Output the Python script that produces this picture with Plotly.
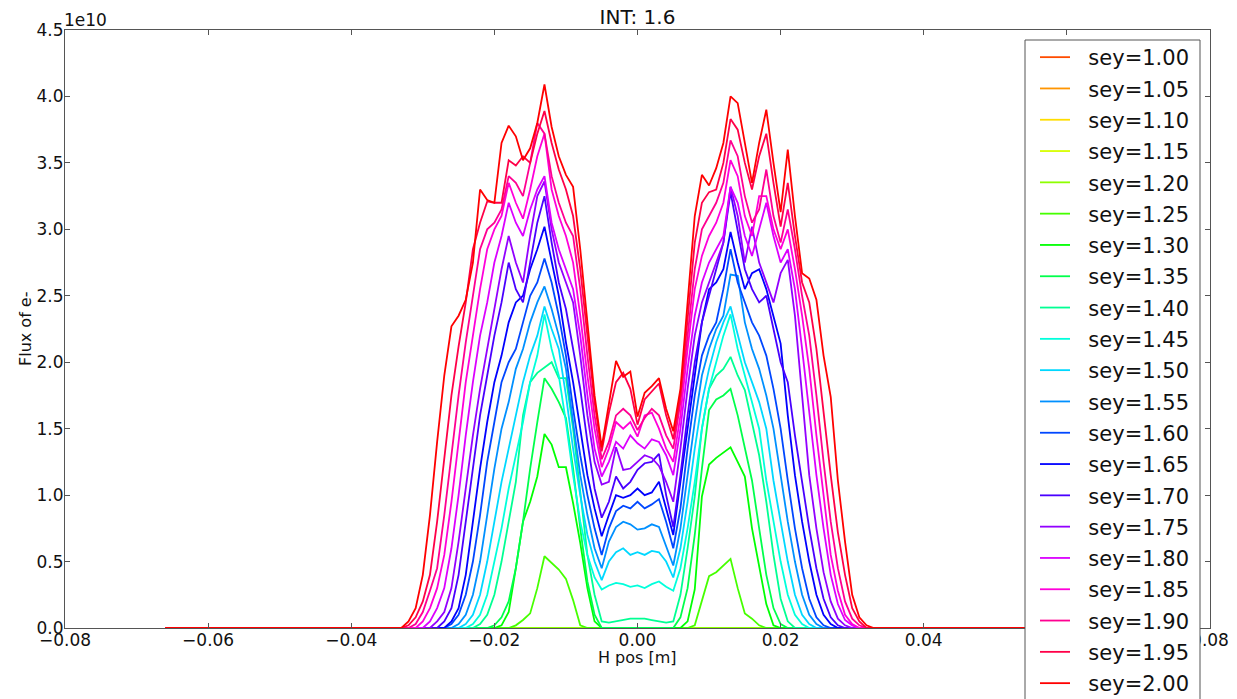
import colorsys

import numpy as np
import plotly.graph_objects as go

# Horizontal positions of the flux bins [m]; 1 mm bins across the chamber.
x_full = np.round(np.linspace(-0.066, 0.066, 133), 3)
# Bins -0.034 .. +0.034 m carry all the non-zero flux; outside it is zero.
CORE_START, CORE_LEN = 32, 69

sey_labels = ["1.00", "1.05", "1.10", "1.15", "1.20", "1.25", "1.30", "1.35", "1.40",
              "1.45", "1.50", "1.55", "1.60", "1.65", "1.70", "1.75", "1.80", "1.85",
              "1.90", "1.95", "2.00"]

# Electron flux per bin over x = -0.034 .. 0.034 m, in units of 1e10.
flux_sey_100 = [0.0] * CORE_LEN
flux_sey_105 = [0.0] * CORE_LEN
flux_sey_110 = [0.0] * CORE_LEN
flux_sey_115 = [0.0] * CORE_LEN
flux_sey_120 = [0.0] * CORE_LEN
flux_sey_125 = [
    0, 0, 0, 0, 0, 0, 0, 0, 0, 0,
    0, 0, 0, 0, 0, 0, 0, 0.02, 0.06, 0.11,
    0.30, 0.54, 0.49, 0.44, 0.37, 0.21, 0.02, 0, 0, 0,
    0, 0, 0, 0, 0, 0, 0, 0, 0, 0,
    0, 0, 0.02, 0.20, 0.39, 0.42, 0.47, 0.52, 0.30, 0.11,
    0.07, 0.02, 0, 0, 0, 0, 0, 0, 0, 0,
    0, 0, 0, 0, 0, 0, 0, 0, 0]
flux_sey_130 = [
    0, 0, 0, 0, 0, 0, 0, 0, 0, 0,
    0, 0, 0, 0, 0, 0.02, 0.12, 0.45, 0.80, 0.95,
    1.14, 1.46, 1.38, 1.21, 1.21, 0.94, 0.64, 0.30, 0.05, 0,
    0, 0, 0, 0, 0, 0, 0, 0, 0, 0,
    0, 0.05, 0.29, 0.99, 1.23, 1.28, 1.32, 1.36, 1.25, 1.14,
    0.75, 0.45, 0.18, 0.02, 0, 0, 0, 0, 0, 0,
    0, 0, 0, 0, 0, 0, 0, 0, 0]
flux_sey_135 = [
    0, 0, 0, 0, 0, 0, 0, 0, 0, 0,
    0, 0, 0, 0, 0.02, 0.08, 0.20, 0.45, 0.80, 1.20,
    1.55, 1.88, 1.80, 1.70, 1.58, 1.20, 0.75, 0.35, 0.10, 0,
    0, 0, 0, 0, 0, 0, 0, 0, 0, 0,
    0.08, 0.30, 0.70, 1.20, 1.64, 1.72, 1.75, 1.80, 1.60, 1.35,
    1.11, 0.75, 0.40, 0.15, 0.03, 0, 0, 0, 0, 0,
    0, 0, 0, 0, 0, 0, 0, 0, 0]
flux_sey_140 = [
    0, 0, 0, 0, 0, 0, 0, 0, 0, 0,
    0, 0, 0.03, 0.10, 0.25, 0.50, 0.80, 1.10, 1.60, 1.85,
    1.92, 1.96, 2.00, 1.88, 1.88, 1.50, 1.00, 0.55, 0.25, 0.05,
    0.04, 0.05, 0.06, 0.07, 0.07, 0.07, 0.06, 0.05, 0.04, 0.05,
    0.25, 0.60, 0.99, 1.50, 1.80, 1.90, 1.95, 2.04, 1.90, 1.79,
    1.55, 1.30, 0.95, 0.55, 0.22, 0.05, 0, 0, 0, 0,
    0, 0, 0, 0, 0, 0, 0, 0, 0]
flux_sey_145 = [
    0, 0, 0, 0, 0, 0, 0, 0, 0, 0,
    0, 0.03, 0.10, 0.25, 0.50, 0.75, 1.05, 1.30, 1.55, 1.85,
    2.05, 2.36, 2.10, 1.90, 1.55, 1.15, 0.80, 0.55, 0.38, 0.29,
    0.32, 0.34, 0.33, 0.31, 0.32, 0.30, 0.33, 0.35, 0.31, 0.28,
    0.45, 0.75, 1.10, 1.50, 1.80, 2.00, 2.20, 2.36, 2.10, 1.90,
    1.70, 1.50, 1.11, 0.80, 0.50, 0.25, 0.10, 0.03, 0, 0,
    0, 0, 0, 0, 0, 0, 0, 0, 0]
flux_sey_150 = [
    0, 0, 0, 0, 0, 0, 0, 0, 0, 0,
    0.03, 0.10, 0.25, 0.50, 0.80, 1.10, 1.35, 1.60, 1.85, 2.05,
    2.20, 2.42, 2.25, 2.10, 1.75, 1.35, 1.00, 0.70, 0.50, 0.36,
    0.50, 0.57, 0.60, 0.55, 0.57, 0.55, 0.58, 0.57, 0.50, 0.38,
    0.60, 0.95, 1.35, 1.70, 1.95, 2.15, 2.30, 2.42, 2.20, 2.00,
    1.85, 1.70, 1.50, 1.11, 0.80, 0.50, 0.25, 0.10, 0.03, 0,
    0, 0, 0, 0, 0, 0, 0, 0, 0]
flux_sey_155 = [
    0, 0, 0, 0, 0, 0, 0, 0, 0, 0.03,
    0.10, 0.25, 0.50, 0.85, 1.20, 1.50, 1.70, 1.95, 2.10, 2.30,
    2.45, 2.57, 2.40, 2.20, 1.95, 1.55, 1.15, 0.85, 0.60, 0.45,
    0.65, 0.76, 0.80, 0.78, 0.74, 0.75, 0.78, 0.76, 0.62, 0.47,
    0.75, 1.15, 1.55, 1.90, 2.10, 2.25, 2.35, 2.66, 2.65, 2.30,
    2.10, 1.95, 1.75, 1.50, 1.15, 0.80, 0.50, 0.25, 0.10, 0.03,
    0, 0, 0, 0, 0, 0, 0, 0, 0]
flux_sey_160 = [
    0, 0, 0, 0, 0, 0, 0, 0, 0.03, 0.10,
    0.25, 0.50, 0.85, 1.25, 1.55, 1.85, 2.00, 2.10, 2.30, 2.50,
    2.60, 2.78, 2.60, 2.35, 2.05, 1.65, 1.30, 1.00, 0.75, 0.55,
    0.75, 0.88, 0.92, 0.90, 0.95, 0.90, 0.93, 0.97, 0.80, 0.60,
    0.90, 1.35, 1.75, 2.05, 2.20, 2.30, 2.55, 2.85, 2.60, 2.45,
    2.30, 2.20, 2.05, 1.80, 1.50, 1.11, 0.75, 0.45, 0.22, 0.08,
    0.02, 0, 0, 0, 0, 0, 0, 0, 0]
flux_sey_165 = [
    0, 0, 0, 0, 0, 0, 0, 0, 0.05, 0.15,
    0.40, 0.80, 1.20, 1.55, 1.85, 2.05, 2.30, 2.45, 2.50, 2.70,
    2.85, 3.02, 2.75, 2.50, 2.15, 1.85, 1.50, 1.15, 0.90, 0.69,
    0.85, 1.00, 0.98, 1.00, 1.05, 1.00, 1.02, 1.10, 0.90, 0.70,
    1.10, 1.50, 1.90, 2.30, 2.55, 2.60, 2.70, 2.98, 2.75, 2.55,
    2.67, 2.70, 2.55, 2.35, 2.14, 1.60, 1.15, 0.80, 0.50, 0.25,
    0.10, 0.03, 0, 0, 0, 0, 0, 0, 0]
flux_sey_170 = [
    0, 0, 0, 0, 0, 0, 0, 0.05, 0.15, 0.40,
    0.80, 1.20, 1.60, 1.90, 2.20, 2.45, 2.75, 2.55, 2.45, 2.75,
    3.05, 3.25, 2.90, 2.60, 2.40, 2.10, 1.80, 1.40, 1.05, 0.83,
    0.95, 1.14, 1.05, 1.10, 1.19, 1.24, 1.25, 1.31, 1.00, 0.76,
    1.15, 1.60, 2.00, 2.30, 2.50, 2.70, 2.90, 3.28, 3.00, 2.70,
    2.55, 2.45, 2.50, 2.25, 2.00, 1.85, 1.45, 1.10, 0.75, 0.45,
    0.22, 0.08, 0.02, 0, 0, 0, 0, 0, 0]
flux_sey_175 = [
    0, 0, 0, 0, 0, 0, 0.05, 0.12, 0.30, 0.65,
    1.05, 1.45, 1.80, 2.10, 2.40, 2.70, 2.95, 2.75, 2.60, 2.95,
    3.25, 3.36, 3.00, 2.75, 2.60, 2.45, 2.05, 1.60, 1.25, 1.08,
    1.10, 1.36, 1.19, 1.20, 1.25, 1.30, 1.28, 1.22, 1.10, 0.95,
    1.35, 1.80, 2.20, 2.45, 2.60, 2.75, 2.90, 3.32, 3.10, 2.75,
    3.02, 2.75, 2.60, 2.45, 2.67, 2.77, 2.35, 1.75, 1.15, 0.75,
    0.42, 0.20, 0.07, 0.02, 0, 0, 0, 0, 0]
flux_sey_180 = [
    0, 0, 0, 0, 0, 0.05, 0.15, 0.30, 0.60, 1.00,
    1.45, 1.85, 2.20, 2.45, 2.75, 2.95, 3.20, 3.05, 2.95, 3.15,
    3.30, 3.40, 3.05, 2.85, 2.70, 2.55, 2.20, 1.75, 1.35, 1.14,
    1.25, 1.40, 1.35, 1.45, 1.39, 1.35, 1.42, 1.40, 1.30, 1.15,
    1.50, 1.95, 2.35, 2.60, 2.75, 2.85, 2.95, 3.32, 3.20, 2.95,
    2.80, 3.00, 3.20, 2.95, 2.75, 2.85, 2.55, 2.10, 1.60, 1.15,
    0.75, 0.40, 0.18, 0.06, 0.02, 0, 0, 0, 0]
flux_sey_185 = [
    0, 0, 0, 0, 0.05, 0.15, 0.30, 0.55, 0.95, 1.40,
    1.85, 2.20, 2.55, 2.85, 3.00, 3.10, 3.35, 3.20, 3.08, 3.30,
    3.55, 3.72, 3.30, 3.10, 2.95, 2.75, 2.35, 1.90, 1.50, 1.21,
    1.35, 1.55, 1.50, 1.55, 1.44, 1.60, 1.62, 1.50, 1.35, 1.25,
    1.60, 2.10, 2.55, 2.80, 2.95, 3.05, 3.20, 3.52, 3.40, 3.10,
    2.95, 3.25, 3.25, 3.00, 2.85, 3.00, 2.70, 2.35, 1.95, 1.45,
    0.98, 0.55, 0.28, 0.10, 0.03, 0, 0, 0, 0]
flux_sey_190 = [
    0, 0, 0, 0.03, 0.12, 0.28, 0.45, 0.85, 1.30, 1.75,
    2.15, 2.50, 2.85, 3.00, 3.05, 3.15, 3.40, 3.35, 3.25, 3.50,
    3.80, 3.72, 3.40, 3.20, 3.05, 2.95, 2.55, 2.05, 1.60, 1.27,
    1.40, 1.60, 1.65, 1.60, 1.49, 1.58, 1.65, 1.60, 1.45, 1.35,
    1.70, 2.20, 2.70, 3.00, 3.10, 3.20, 3.35, 3.67, 3.55, 3.25,
    3.05, 3.15, 3.45, 3.10, 2.90, 3.15, 2.85, 2.50, 2.20, 1.75,
    1.25, 0.80, 0.45, 0.20, 0.07, 0.02, 0, 0, 0]
flux_sey_195 = [
    0, 0, 0.02, 0.08, 0.20, 0.40, 0.80, 1.30, 1.75, 2.12,
    2.45, 2.85, 3.05, 3.21, 3.20, 3.20, 3.52, 3.48, 3.55, 3.50,
    3.72, 3.89, 3.65, 3.45, 3.30, 3.10, 2.70, 2.20, 1.70, 1.33,
    1.62, 1.85, 1.92, 1.80, 1.53, 1.72, 1.78, 1.84, 1.60, 1.42,
    1.75, 2.30, 2.90, 3.20, 3.28, 3.30, 3.50, 3.83, 3.75, 3.50,
    3.30, 3.55, 3.72, 3.35, 3.02, 3.35, 2.95, 2.60, 2.45, 2.10,
    1.60, 1.15, 0.72, 0.40, 0.15, 0.05, 0, 0, 0]
flux_sey_200 = [
    0, 0, 0.05, 0.15, 0.40, 0.85, 1.40, 1.90, 2.27, 2.35,
    2.47, 2.75, 3.30, 3.22, 3.20, 3.65, 3.78, 3.70, 3.52, 3.61,
    3.80, 4.09, 3.77, 3.55, 3.41, 3.32, 2.85, 2.30, 1.75, 1.36,
    1.70, 2.01, 1.89, 1.93, 1.59, 1.77, 1.82, 1.88, 1.65, 1.48,
    1.80, 2.45, 3.10, 3.41, 3.33, 3.46, 3.65, 4.00, 3.95, 3.65,
    3.35, 3.65, 3.90, 3.50, 3.13, 3.60, 3.10, 2.67, 2.63, 2.47,
    2.05, 1.74, 1.11, 0.65, 0.25, 0.08, 0.02, 0, 0]

flux_core = [flux_sey_100, flux_sey_105, flux_sey_110, flux_sey_115, flux_sey_120,
             flux_sey_125, flux_sey_130, flux_sey_135, flux_sey_140, flux_sey_145,
             flux_sey_150, flux_sey_155, flux_sey_160, flux_sey_165, flux_sey_170,
             flux_sey_175, flux_sey_180, flux_sey_185, flux_sey_190, flux_sey_195,
             flux_sey_200]

FONT = "DejaVu Sans"
AXIS_COLOR = "#555555"
TEXT_COLOR = "#111111"

# Plot-area geometry in pixels, used to place the paper-referenced extras.
FIG_W, FIG_H = 1237, 699
PLOT_L, PLOT_R, PLOT_T, PLOT_B = 65, 1210, 30, 628
PLOT_W, PLOT_H = PLOT_R - PLOT_L, PLOT_B - PLOT_T


def px_x(px):
    return (px - PLOT_L) / PLOT_W


def px_y(py):
    return (PLOT_B - py) / PLOT_H


fig = go.Figure()
n = len(sey_labels)
for i, (label, core) in enumerate(zip(sey_labels, flux_core)):
    y = np.zeros(len(x_full))
    y[CORE_START:CORE_START + CORE_LEN] = core
    # hsv colour map, orange-red for the lowest SEY round to red for the highest
    r, g, b = colorsys.hsv_to_rgb(0.05 + 0.95 * i / (n - 1), 1.0, 1.0)
    color = f"rgb({int(r * 255)},{int(g * 255)},{int(b * 255)})"
    fig.add_trace(go.Scatter(
        x=x_full, y=y, mode="lines", name="\u00a0\u00a0sey=" + label,
        legendgroup=label, line=dict(color=color, width=1.8),
    ))

axis_common = dict(
    showgrid=False, zeroline=False, showline=True, linecolor=AXIS_COLOR, linewidth=1,
    mirror="allticks", ticks="inside", ticklen=5, tickcolor=AXIS_COLOR, tickwidth=1,
    tickfont=dict(family=FONT, size=17, color=TEXT_COLOR), ticklabelstandoff=-3,
)

fig.update_layout(
    width=FIG_W, height=FIG_H,
    margin=dict(l=PLOT_L, r=FIG_W - PLOT_R, t=PLOT_T, b=FIG_H - PLOT_B, autoexpand=False),
    paper_bgcolor="white", plot_bgcolor="white",
    font=dict(family=FONT, color=TEXT_COLOR),
    title=dict(text="INT: 1.6", x=0.5, xref="paper", xanchor="center",
               y=1 - 17 / FIG_H, yref="container", yanchor="middle",
               font=dict(family=FONT, size=20, color=TEXT_COLOR)),
    xaxis=dict(range=[-0.08, 0.08], tickvals=[-0.08, -0.06, -0.04, -0.02, 0, 0.02, 0.04, 0.06, 0.08],
               tickformat=".2f", **axis_common),
    yaxis=dict(range=[0, 4.5], tickvals=[0, 0.5, 1, 1.5, 2, 2.5, 3, 3.5, 4, 4.5],
               tickformat=".1f", **axis_common),
    # legend entries sit inside a framed white box that runs off the bottom edge
    legend=dict(x=px_x(1035), y=px_y(37), xanchor="left", yanchor="top",
                bgcolor="rgba(0,0,0,0)", borderwidth=0,
                font=dict(family=FONT, size=21, color=TEXT_COLOR),
                tracegroupgap=1, maxheight=2000),
    shapes=[dict(type="rect", xref="paper", yref="paper",
                 x0=px_x(1025), x1=px_x(1200), y0=px_y(40), y1=px_y(730),
                 fillcolor="white", line=dict(color=AXIS_COLOR, width=1), layer="above")],
    annotations=[
        dict(text="1e10", x=0, y=1, xref="paper", yref="paper",
             xanchor="left", yanchor="bottom", showarrow=False, xshift=-3, yshift=-2,
             font=dict(family=FONT, size=17, color=TEXT_COLOR)),
        dict(text="H pos [m]", x=0.5, y=px_y(657), xref="paper", yref="paper",
             xanchor="center", yanchor="middle", showarrow=False,
             font=dict(family=FONT, size=16, color=TEXT_COLOR)),
        dict(text="Flux of e-", x=px_x(25), y=0.5, xref="paper", yref="paper",
             xanchor="center", yanchor="middle", showarrow=False, textangle=-90,
             font=dict(family=FONT, size=16, color=TEXT_COLOR)),
    ],
    showlegend=True,
)

fig.write_html("out.html")
